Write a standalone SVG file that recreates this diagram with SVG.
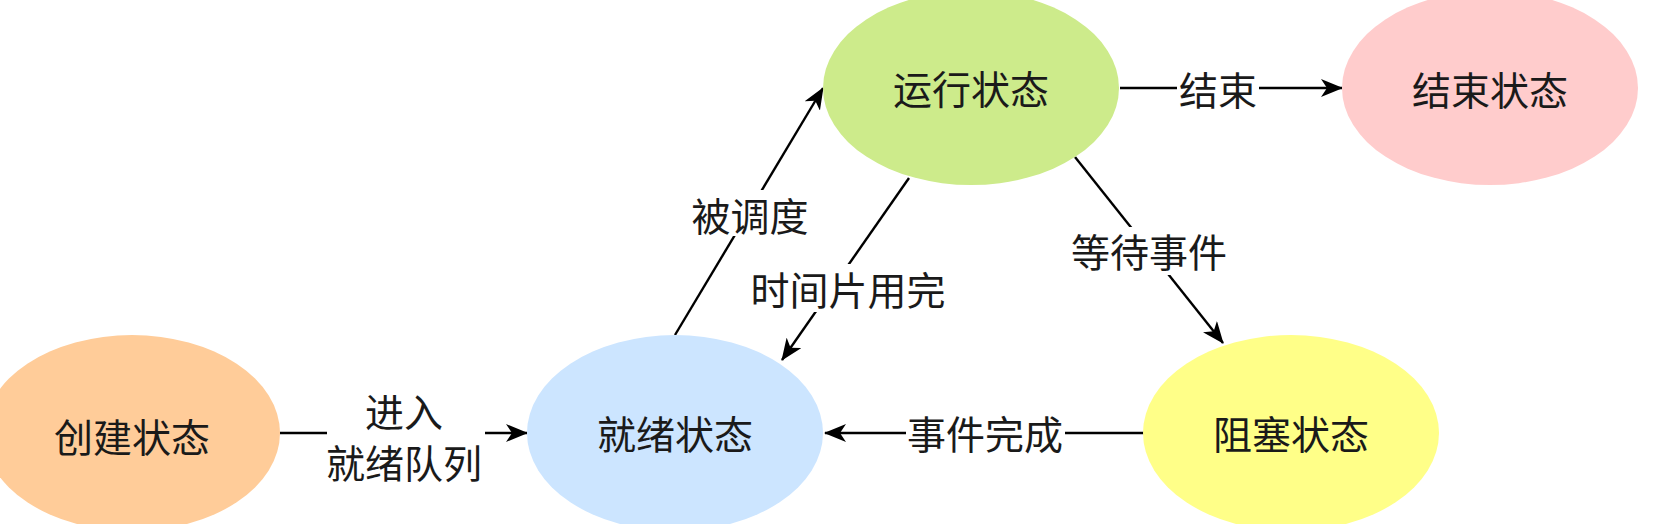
<svg xmlns="http://www.w3.org/2000/svg" width="1653" height="524" viewBox="0 0 1653 524">
<style>
.lbl{font-family:"Noto Sans CJK SC","Noto Sans",sans-serif;font-size:39px;fill:#1a1a1a;text-anchor:middle;dominant-baseline:central}
.edge{stroke:#000;stroke-width:2.4;fill:none;marker-end:url(#arr)}
.bg{fill:#fff}
</style>
<defs>
<marker id="arr" viewBox="0 0 22 18" refX="21" refY="9" markerWidth="22" markerHeight="18" markerUnits="userSpaceOnUse" orient="auto">
<path d="M0,0 L22,9 L0,18 L6,9 Z" fill="#000"/>
</marker>
</defs>
<rect width="1653" height="524" fill="#fff"/>
<g id="connectors">
<line class="edge" x1="280" y1="433" x2="527" y2="433"/>
<line class="edge" x1="675" y1="335" x2="823" y2="88"/>
<line class="edge" x1="909" y1="178" x2="782" y2="360"/>
<line class="edge" x1="1075" y1="157" x2="1223" y2="343"/>
<line class="edge" x1="1144" y1="433" x2="825" y2="433"/>
<line class="edge" x1="1120" y1="88" x2="1342" y2="88"/>
<rect class="bg" x="327" y="390" width="158" height="94"/>
<rect class="bg" x="690" y="190" width="120" height="46"/>
<rect class="bg" x="750" y="264" width="197" height="48"/>
<rect class="bg" x="1069" y="227" width="160" height="48"/>
<rect class="bg" x="906" y="410" width="159" height="46"/>
<rect class="bg" x="1177" y="66" width="82" height="46"/>
<text class="lbl" x="404" y="410">进入</text>
<text class="lbl" x="404" y="461">就绪队列</text>
<text class="lbl" x="750" y="214">被调度</text>
<text class="lbl" x="848" y="288">时间片用完</text>
<text class="lbl" x="1149" y="250">等待事件</text>
<text class="lbl" x="985" y="432">事件完成</text>
<text class="lbl" x="1218" y="88">结束</text>
</g>
<g id="create">
<ellipse cx="132" cy="433" rx="148" ry="98" fill="#FFCC99"/>
<text class="lbl" x="132" y="435">创建状态</text>
</g>
<g id="ready">
<ellipse cx="675" cy="433" rx="148" ry="98" fill="#CCE5FF"/>
<text class="lbl" x="675" y="432">就绪状态</text>
</g>
<g id="running">
<ellipse cx="971" cy="88" rx="148" ry="97" fill="#CDEB8B"/>
<text class="lbl" x="971" y="87">运行状态</text>
</g>
<g id="end">
<ellipse cx="1490" cy="88" rx="148" ry="97" fill="#FFCCCC"/>
<text class="lbl" x="1490" y="88">结束状态</text>
</g>
<g id="blocked">
<ellipse cx="1291" cy="433" rx="148" ry="98" fill="#FFFF88"/>
<text class="lbl" x="1291" y="432">阻塞状态</text>
</g>
</svg>
